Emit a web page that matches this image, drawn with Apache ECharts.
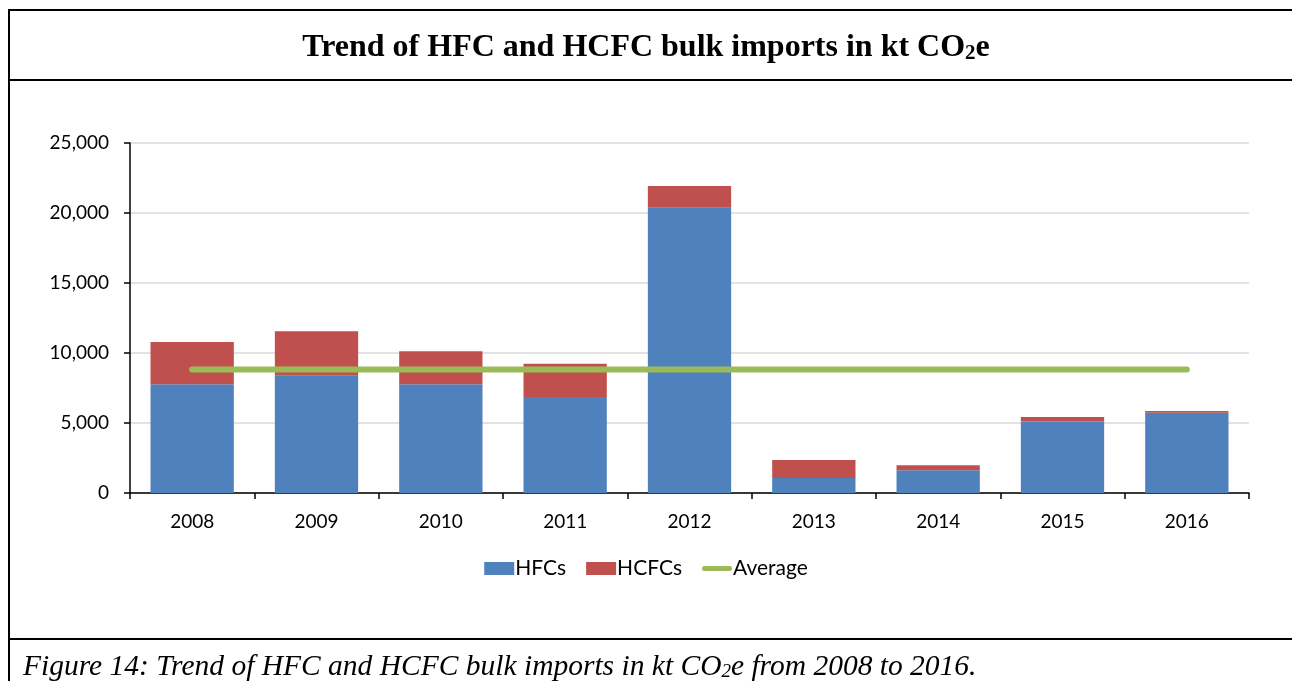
<!DOCTYPE html>
<html>
<head>
<meta charset="utf-8">
<script src="https://cdn.jsdelivr.net/npm/echarts@6/dist/echarts.min.js"></script>
<style>
  html, body { margin: 0; padding: 0; background: #fff; }
  #chart { width: 1292px; height: 681px; }
</style>
</head>
<body>
<div id="chart"></div>
<script>
// values (kt CO2e)
var years = ['2008', '2009', '2010', '2011', '2012', '2013', '2014', '2015', '2016']
var hfcs = [7760, 8380, 7760, 6860, 20380, 1070, 1620, 5100, 5740]
var hcfcs = [3030, 3170, 2360, 2380, 1550, 1290, 360, 330, 120]
var average = [8830, 8830, 8830, 8830, 8830, 8830, 8830, 8830, 8830]
var yTicks = [0, 5000, 10000, 15000, 20000, 25000]

var chart = echarts.init(document.getElementById('chart'))

var labelFont = 'Lato, "Open Sans", sans-serif'
var frame = { stroke: '#000', lineWidth: 2 }

chart.setOption({
  animation: false,
  title: [{
    text: 'Trend of HFC and HCFC bulk imports in kt CO{sub|2}e',
    left: 'center',
    top: 27,
    textStyle: {
      fontFamily: '"Liberation Serif", serif',
      fontWeight: 'bold',
      fontSize: 32,
      color: '#000',
      rich: {
        sub: { fontFamily: '"Liberation Serif", serif', fontWeight: 'bold', fontSize: 21, color: '#000', padding: [11, 0, 0, 0] }
      }
    }
  }, {
    text: 'Figure 14: Trend of HFC and HCFC bulk imports in kt CO{sub|2}e from 2008 to 2016.',
    left: 18,
    top: 647,
    textStyle: {
      fontFamily: '"Liberation Serif", serif',
      fontStyle: 'italic',
      fontWeight: 'normal',
      fontSize: 29.5,
      color: '#000',
      rich: {
        sub: { fontFamily: '"Liberation Serif", serif', fontStyle: 'italic', fontSize: 19, color: '#000', padding: [9, 0, 0, 0] }
      }
    }
  }],
  graphic: [
    { type: 'line', shape: { x1: 8, y1: 10, x2: 1292, y2: 10 }, style: frame },
    { type: 'line', shape: { x1: 8, y1: 80, x2: 1292, y2: 80 }, style: frame },
    { type: 'line', shape: { x1: 8, y1: 639, x2: 1292, y2: 639 }, style: frame },
    { type: 'line', shape: { x1: 9, y1: 9, x2: 9, y2: 681 }, style: frame }
  ],
  grid: {
    left: 130,
    right: 43,
    top: 143,
    bottom: 188,
    containLabel: false
  },
  legend: {
    bottom: 97,
    left: 'center',
    itemWidth: 30,
    itemHeight: 13,
    itemGap: 20,
    textStyle: { fontFamily: labelFont, fontSize: 21, color: '#000', padding: [0, 0, 0, -4] },
    data: [
      { name: 'HFCs', icon: 'rect' },
      { name: 'HCFCs', icon: 'rect' },
      { name: 'Average', icon: 'path://M3,0 L33,0 A3,3 0 0 1 33,6 L3,6 A3,3 0 0 1 3,0 Z' }
    ]
  },
  xAxis: {
    type: 'category',
    data: years,
    axisLine: { lineStyle: { color: '#000', width: 1.5 } },
    axisTick: { show: true, alignWithLabel: false, length: 6, lineStyle: { color: '#000', width: 1.5 } },
    axisLabel: { fontFamily: labelFont, fontSize: 19, color: '#000', margin: 19 }
  },
  yAxis: {
    type: 'value',
    min: yTicks[0],
    max: yTicks[yTicks.length - 1],
    interval: 5000,
    axisLine: { show: true, lineStyle: { color: '#000', width: 1.5 } },
    axisTick: { show: true, inside: false, length: 6, lineStyle: { color: '#000', width: 1.5 } },
    splitLine: { lineStyle: { color: '#d9d9d9', width: 1.5 } },
    axisLabel: {
      fontFamily: labelFont,
      fontSize: 19,
      color: '#000',
      margin: 21,
      formatter: function (v) { return v.toLocaleString('en-US') }
    }
  },
  series: [{
    name: 'HFCs',
    type: 'bar',
    stack: 'total',
    barCategoryGap: '33%',
    itemStyle: { color: '#4F81BD' },
    data: hfcs
  }, {
    name: 'HCFCs',
    type: 'bar',
    stack: 'total',
    itemStyle: { color: '#C0504D' },
    data: hcfcs
  }, {
    name: 'Average',
    type: 'line',
    symbol: 'none',
    z: 5,
    itemStyle: { color: '#9BBB59' },
    lineStyle: { color: '#9BBB59', width: 6, cap: 'round' },
    data: average
  }]
})
</script>
</body>
</html>
